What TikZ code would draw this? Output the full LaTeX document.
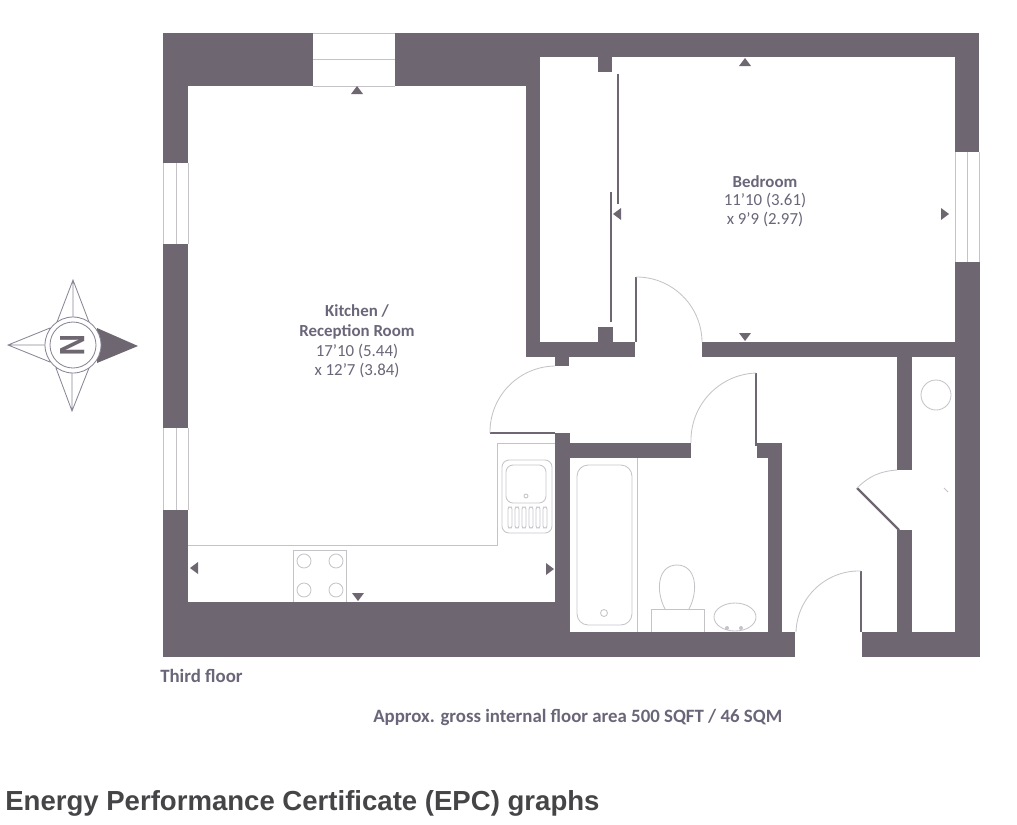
\documentclass[tikz,border=0pt]{standalone}
\usepackage{fontspec}
\setmainfont{Carlito}
\newfontfamily\headfont{Liberation Sans}
\definecolor{wallgrey}{HTML}{6E6670}
\definecolor{thingrey}{HTML}{C6C3C8}
\definecolor{compassgrey}{HTML}{8A8595}
\definecolor{labelgrey}{HTML}{6A6578}
\definecolor{headgrey}{HTML}{454547}
\tikzset{
  wall/.style={fill=wallgrey,draw=none},
  leaf/.style={draw=wallgrey,line width=1.6pt},
  slider/.style={draw=wallgrey,line width=2.1pt},
  swing/.style={draw=thingrey,line width=.6pt},
  fitting/.style={draw=thingrey,line width=.6pt},
  compassline/.style={draw=compassgrey,line width=.6pt},
  label/.style={text=labelgrey,font=\fontsize{12}{14}\selectfont,align=center,inner sep=0pt},
  blabel/.style={label,font=\fontsize{12}{14}\selectfont\bfseries},
  nlabel/.style={label,font=\fontsize{13.4}{15}\selectfont\bfseries}
}
\begin{document}
\begin{tikzpicture}[x=0.025cm,y=-0.025cm]
\useasboundingbox (0,0) rectangle (1017,824);

% outer and inner walls
\foreach \xa/\ya/\xb/\yb in {163/33/313/86,395/33/540/86,540/33/979/57,163/86/188/163,163/244/188/428,163/510/188/602,
  163/602/570/657,570/632/795/657,862/632/980/657,955/57/979/152,955/262/980/632,526/86/540/357,526/342/635/357,
  702/342/955/357,598/57/612/72,598/327/613/342,555/357/569/366,555/433/570/602,570/443/691/458,757/443/782/458,
  768/458/782/632,897/357/912/470,897/530/912/632}
{
\fill[wall] (\xa,\ya) rectangle (\xb,\yb);
}

% windows
\draw[fitting] (313,33) -- (395,33) (313,59) -- (395,59) (313,86) -- (395,86);
\foreach \ya/\yb in {163/244,428/510}
{
\draw[fitting] (163,\ya) -- (163,\yb) (176,\ya) -- (176,\yb) (188,\ya) -- (188,\yb);
}
\draw[fitting] (955,152) -- (955,262) (967,152) -- (967,262) (979,152) -- (979,262);

% sliding doors
\draw[slider] (618,74) -- (618,204);
\draw[slider] (611,192) -- (611,322);

% doors
\draw[leaf] (636,277) -- (636,342);
\draw[swing] (636,277) to[bend left=45] (702,342);
\draw[leaf] (490,433) -- (555,433);
\draw[swing] (555,366) to[bend right=45] (490,433);
\draw[leaf] (756,373) -- (756,446);
\draw[swing] (691,443) to[bend left=45] (756,373);
\draw[leaf] (861,571) -- (861,632);
\draw[swing] (796,632) to[bend left=45] (861,571);
\draw[leaf] (899,530) -- (857,488);
\draw[swing] (857,488) to[bend left=20] (897,470);
\draw[fitting] (944,488) -- (948,492);

% kitchen
\draw[fitting] (497,443) -- (555,443) (497,443) -- (497,545) -- (188,545);
\draw[fitting,rounded corners=5] (502,460) rectangle (552,533);
\draw[fitting,rounded corners=5] (506,465) rectangle (546,503);
\draw[fitting] (526,496) circle (2);
\foreach \x in {510,517,524,531,538,545}
{
\draw[fitting,rounded corners=1.5] (\x-2,507) rectangle (\x+2,528);
}
\draw[fitting] (293,602) -- (293,550) -- (346,550) -- (346,602);
\foreach \x in {304,336}
\foreach \y in {561,590}
{
\draw[fitting] (\x,\y) circle (7);
}

% bathroom
\draw[fitting] (637,458) -- (637,632);
\draw[fitting,rounded corners=8] (577,465) rectangle (632,625);
\draw[fitting] (604,613) circle (3.5);
\draw[fitting] (651,632) -- (651,609) -- (704,609) -- (704,632);
\draw[fitting] (665,609) .. controls (655,590) and (658,565) .. (677,565) .. controls (696,565) and (699,590) .. (689,609);
\draw[fitting] (735,617) ellipse [x radius=21,y radius=14];
\fill[thingrey] (727,628) circle (2) (741,628) circle (2);
\draw[fitting] (936,395) circle (15);

% room markers
\foreach \x/\y/\r in {357/90/0,194/568/90,550/569/270,358/597/180,745/62/0,745/337/180,617/214/90,945/214/270}
{
\fill[wallgrey,shift={(\x,\y)},rotate=\r] (-6,4) -- (6,4) -- (0,-4) -- cycle;
}

% compass
\draw[compassline] (73,280) -- (57,322) -- (89,322) -- cycle (73,280) -- (73,322);
\draw[compassline] (72,411) -- (56,368) -- (89,368) -- cycle (72,411) -- (72,368);
\draw[compassline] (8,345) -- (50,328) -- (50,362) -- cycle (8,345) -- (50,345);
\fill[wallgrey] (138,346) -- (97,328) -- (97,363) -- cycle;
\draw[compassline,fill=white] (73,345) circle (28);
\draw[compassline] (73,345) circle (23);
\node[rotate=-90,xscale=.85,text=wallgrey,inner sep=0pt,font=\headfont\fontsize{25}{25}\selectfont\bfseries] (north) at (73,345) {N};

% labels
\node[blabel] (kitchen) at (357,322) {Kitchen /\\Reception Room};
\node[label] (kitchensize) at (357,361) {17'10 (5.44)\\x 12'7 (3.84)};
\node[blabel] (bedroom) at (765,182) {Bedroom};
\node[label] (bedroomsize) at (765,210) {11'10 (3.61)\\x 9'9 (2.97)};
\node[nlabel,anchor=west] (floor) at (160,676) {Third floor};
\node[nlabel,anchor=west] (area) at (373,717) {Approx. gross internal floor area 500 SQFT / 46 SQM};
\node[anchor=west,inner sep=0pt,text=headgrey,font=\headfont\fontsize{19.6}{22}\selectfont\bfseries] (epc) at (5,803) {Energy Performance Certificate (EPC) graphs};
\end{tikzpicture}
\end{document}
